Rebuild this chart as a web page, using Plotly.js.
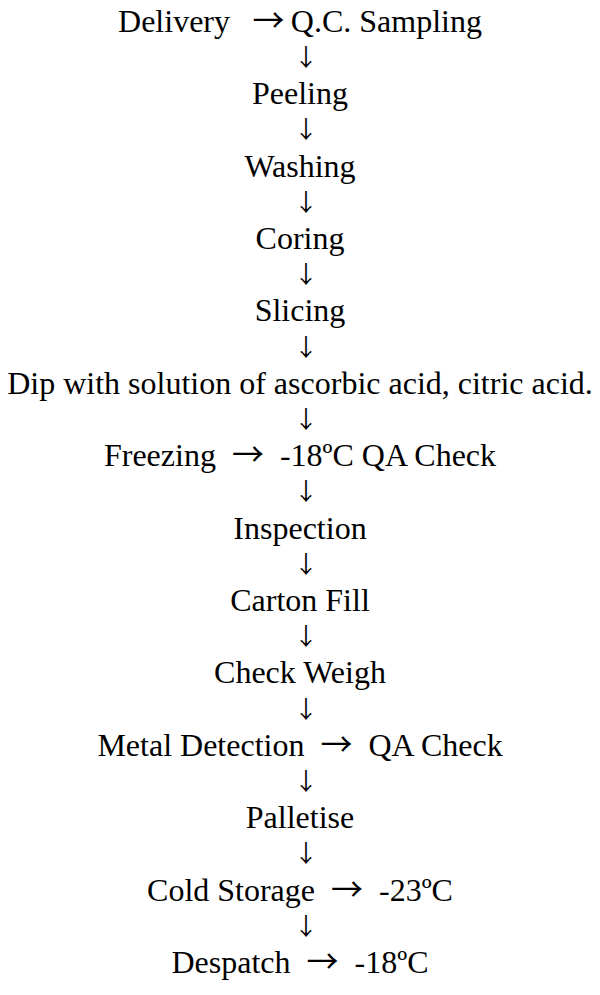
<!DOCTYPE html>
<html>
<head>
<meta charset="utf-8">
<script src="https://cdn.plot.ly/plotly-3.0.1.min.js"></script>
<style>html,body{margin:0;padding:0;background:#fff;}#chart{width:600px;height:995px;}</style>
</head>
<body>
<div id="chart"></div>
<script>
// Process steps (top to bottom) and the side notes that follow each step after a "→"
const steps = ["Delivery", "Peeling", "Washing", "Coring", "Slicing",
  "Dip with solution of ascorbic acid, citric acid.", "Freezing", "Inspection",
  "Carton Fill", "Check Weigh", "Metal Detection", "Palletise", "Cold Storage", "Despatch"];
const sideNotes = ["Q.C. Sampling", "", "", "", "", "", "-18ºC QA Check", "", "", "",
  "QA Check", "", "-23ºC", "-18ºC"];
const NB = "\u00a0", TH = "\u2009";
const sepBefore = [NB + NB + TH, "", "", "", "", "", NB + NB, "", "", "", NB + NB, "", NB + NB, NB + NB];
const sepAfter  = [TH, "", "", "", "", "", NB + NB, "", "", "", NB + NB, "", NB + NB, NB + NB];

const arrowSpan = "<span style=\"font-family:'Noto Sans CJK JP'\">\u2192</span>";
const lineText = steps.map((s, i) => sideNotes[i] ? s + sepBefore[i] + arrowSpan + sepAfter[i] + sideNotes[i] : s);
const lineRow = steps.map((s, i) => 2 * i);
const arrowRow = steps.slice(1).map((s, i) => 2 * i + 1);

const font = {family: "'Liberation Serif', 'Times New Roman', serif", size: 32, color: "#000"};
const arrowFont = {family: "'Noto Sans CJK JP', sans-serif", size: 24, color: "#000"};

const data = [
  {type: "scatter", mode: "text", x: lineRow.map(() => 0), y: lineRow, text: lineText,
   textposition: "middle center", textfont: font, hoverinfo: "skip", showlegend: false},
  {type: "scatter", mode: "text", x: arrowRow.map(() => 0.02), y: arrowRow, text: arrowRow.map(() => "\u2193"),
   textposition: "middle center", textfont: arrowFont, hoverinfo: "skip", showlegend: false}
];

const layout = {
  width: 600, height: 995,
  margin: {l: 0, r: 0, t: 0, b: 0},
  paper_bgcolor: "#fff", plot_bgcolor: "#fff",
  xaxis: {range: [-1, 1], visible: false, fixedrange: true},
  yaxis: {range: [26.83, -0.66], autorange: false, visible: false, fixedrange: true},
  showlegend: false
};

Plotly.newPlot("chart", data, layout, {staticPlot: true, displayModeBar: false});
</script>
</body>
</html>
